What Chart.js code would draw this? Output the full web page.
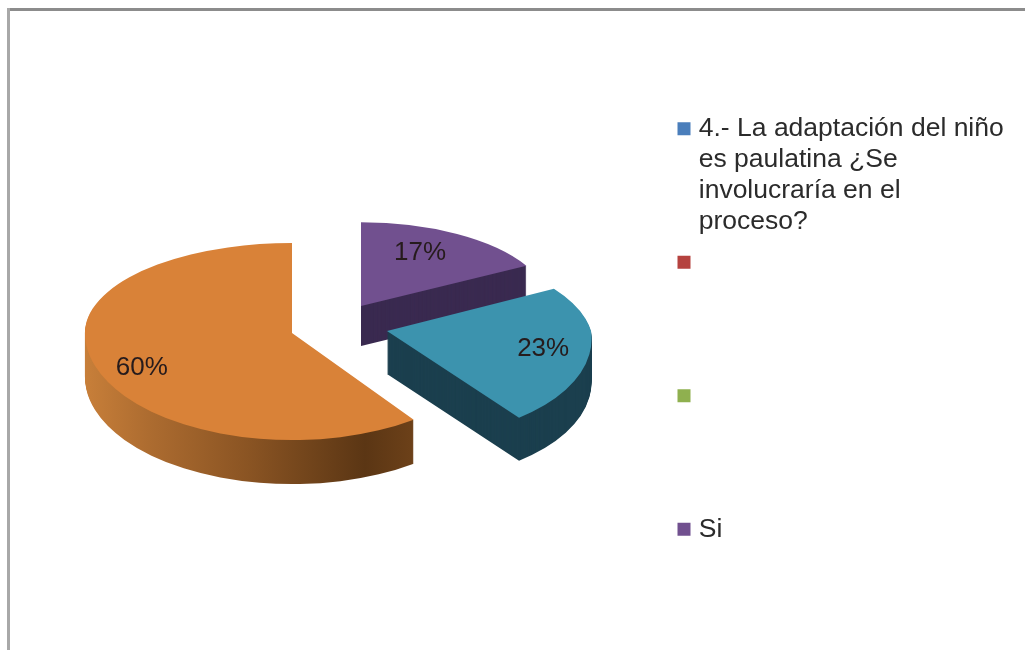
<!DOCTYPE html>
<html lang="es">
<head>
<meta charset="utf-8">
<title>Adaptación del niño</title>
<script src="https://cdn.jsdelivr.net/npm/chart.js@4"></script>
<style>
html,body{margin:0;padding:0;background:#fff;overflow:hidden}
#wrap{position:relative;width:1025px;height:650px;background:#fff}
#frameTop{position:absolute;left:7px;top:8px;width:1018px;height:3px;background:#8c8c8c}
#frameLeft{position:absolute;left:7px;top:8px;width:3px;height:642px;background:#a8a8a8}
canvas{position:absolute;left:0;top:0;filter:blur(0.5px)}
</style>
</head>
<body>
<div id="wrap">
<div id="frameTop"></div><div id="frameLeft"></div>
<canvas id="c" width="1025" height="650"></canvas>
</div>
<script>
const categories = [
  ['4.- La adaptación del niño', 'es paulatina ¿Se', 'involucraría en el', 'proceso?'],
  [' ', ' ', ' ', ' '],
  [' ', ' ', ' ', ' '],
  ['Si', ' ', ' ', ' '],
  '',
  ''
];
const values = [0, 0, 0, 17, 23, 60];
const sliceColors = ['#4a7ebb', '#b5423f', '#8fb04f', '#71508f', '#3c93ae', '#d98238'];
const sideColors = ['#2c4a70', '#6c2725', '#55692f', '#3a2a50', '#1b3f4e', '#7a4a1e'];

const VIEW = {cx: 339, cy: 326, explode: 49, kTop: 0.43, kBottom: 0.525, depth: 43};
const TWEAK = {
  3: {dx: -3, sx: 0.925, kTop: 0.41, depth: 40, label: [116, -12]},
  4: {shearTop: 0.28, shearBottom: 0.14, depth: 43, label: [160, 0]},
  5: {sx: 1.015, kTop: 0.441, depth: 44, label: [158, 9]}
};

function apexOf(el, i) {
  const mid = (el.startAngle + el.endAngle) / 2;
  const kMid = (VIEW.kTop + VIEW.kBottom) / 2;
  return {
    x: Math.round(VIEW.cx + Math.cos(mid) * VIEW.explode + (TWEAK[i].dx || 0)),
    y: Math.round(VIEW.cy + Math.sin(mid) * VIEW.explode * kMid)
  };
}
function orangeSide(ctx, el) {
  const g = ctx.createLinearGradient(el.x - 207, 0, el.x + 121, 0);
  g.addColorStop(0, '#c9803a');
  g.addColorStop(0.2, '#ad6c30');
  g.addColorStop(0.5, '#8a5423');
  g.addColorStop(0.85, '#5b3614');
  g.addColorStop(1, '#6d4119');
  return g;
}
function paintSlice(ctx, el, i, fill, dy) {
  const a = apexOf(el, i);
  const t = TWEAK[i];
  const saved = el.options;
  el.options = Object.assign(Object.create(saved), {backgroundColor: fill, borderWidth: 0, offset: 0});
  const halves = [
    [-2000, a.y + dy, t.kTop || VIEW.kTop, t.shearTop || 0],
    [a.y + dy, 2000, t.kBottom || VIEW.kBottom, t.shearBottom || 0]
  ];
  halves.forEach(([y0, y1, k, shear]) => {
    ctx.save();
    ctx.beginPath();
    ctx.rect(0, y0, 1025, y1 - y0);
    ctx.clip();
    ctx.translate(a.x, a.y + dy);
    ctx.transform(1, 0, shear, 1, 0, 0);
    ctx.scale(t.sx || 1, k);
    ctx.translate(-el.x, -el.y);
    el.draw(ctx);
    ctx.restore();
  });
  el.options = saved;
}
const pie3d = {
  id: 'pie3d',
  beforeDatasetsDraw(chart) {
    const ctx = chart.ctx;
    const arcs = chart.getDatasetMeta(0).data;
    [3, 5, 4].forEach(i => {
      const el = arcs[i];
      const side = i === 5 ? orangeSide(ctx, el) : sideColors[i];
      for (let d = TWEAK[i].depth; d > 0; d -= 1) paintSlice(ctx, el, i, side, d);
      paintSlice(ctx, el, i, sliceColors[i], 0);
    });
    const total = values.reduce((a, b) => a + b, 0);
    ctx.save();
    ctx.font = '26px "Liberation Sans"';
    ctx.fillStyle = '#261b1c';
    ctx.textAlign = 'center';
    ctx.textBaseline = 'middle';
    [3, 4, 5].forEach(i => {
      const el = arcs[i];
      const a = apexOf(el, i);
      const t = TWEAK[i];
      const mid = (el.startAngle + el.endAngle) / 2;
      const [r, ny] = t.label;
      const s = Math.sin(mid);
      const y = a.y + s * r * (s < 0 ? (t.kTop || VIEW.kTop) : (t.kBottom || VIEW.kBottom)) + ny;
      ctx.fillText(Math.round(values[i] / total * 100) + '%', a.x + Math.cos(mid) * r, y);
    });
    ctx.restore();
    return false;
  },
  afterLayout(chart) {
    const l = chart.legend;
    const w = l.width, h = l.height;
    l.left = 673; l.top = 106;
    l.right = l.left + w; l.bottom = l.top + h;
  }
};
new Chart(document.getElementById('c'), {
  type: 'pie',
  data: {labels: categories, datasets: [{data: values, backgroundColor: sliceColors, borderWidth: 0, radius: 204}]},
  plugins: [pie3d],
  options: {
    responsive: false,
    animation: false,
    layout: {padding: 0},
    plugins: {
      tooltip: {enabled: false},
      legend: {
        position: 'right',
        align: 'start',
        labels: {
          usePointStyle: true,
          pointStyle: 'rect',
          boxWidth: 3,
          boxHeight: 13,
          padding: 9.5,
          color: '#2b2b2b',
          font: {family: '"Liberation Sans"', size: 26.5, lineHeight: 1.17},
          filter: item => item.index < 4
        }
      }
    }
  }
});
</script>
</body>
</html>
